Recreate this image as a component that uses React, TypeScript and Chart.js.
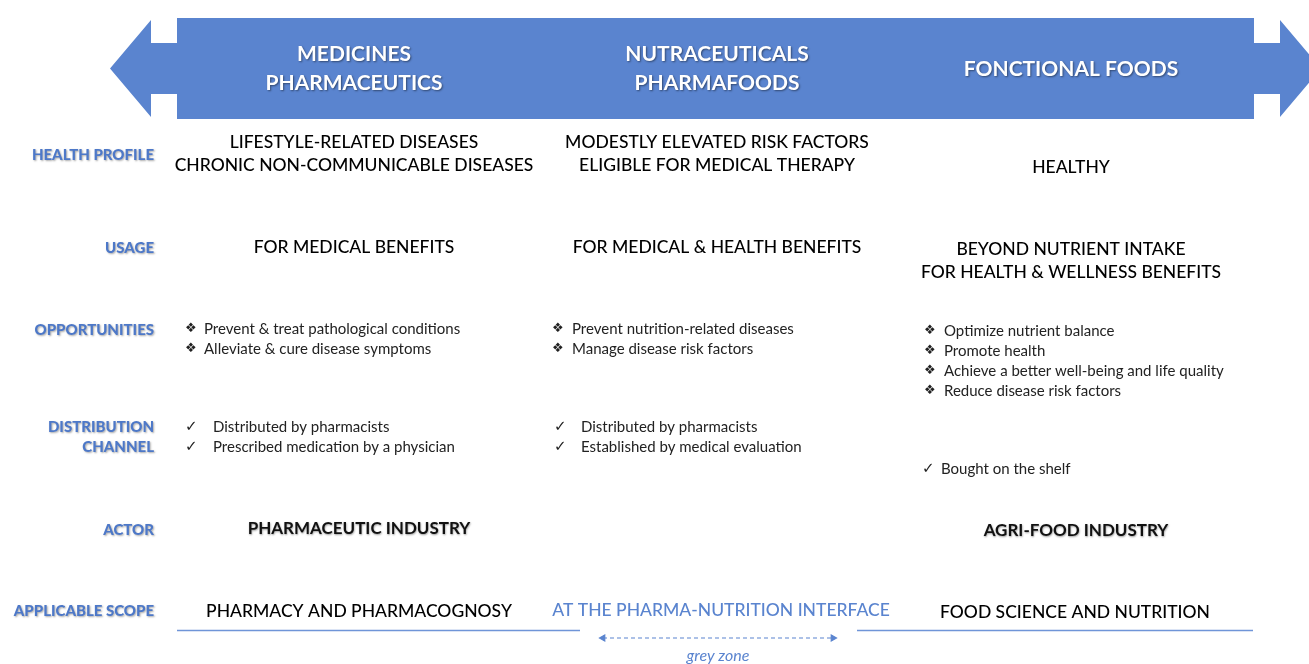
import React, { useEffect, useRef } from 'react';
import { Chart, registerables } from 'chart.js';

Chart.register(...registerables);

const W = 1309;
const H = 664;

// ---------- content ----------
const columnTitles = [
  ['MEDICINES', 'PHARMACEUTICS'],
  ['NUTRACEUTICALS', 'PHARMAFOODS'],
  ['FONCTIONAL FOODS'],
];
const rowLabels = [
  ['HEALTH PROFILE'],
  ['USAGE'],
  ['OPPORTUNITIES'],
  ['DISTRIBUTION', 'CHANNEL'],
  ['ACTOR'],
  ['APPLICABLE SCOPE'],
];
const healthProfile = [
  ['LIFESTYLE-RELATED DISEASES', 'CHRONIC NON-COMMUNICABLE DISEASES'],
  ['MODESTLY ELEVATED RISK FACTORS', 'ELIGIBLE FOR MEDICAL THERAPY'],
  ['HEALTHY'],
];
const usage = [
  ['FOR MEDICAL BENEFITS'],
  ['FOR MEDICAL & HEALTH BENEFITS'],
  ['BEYOND NUTRIENT INTAKE', 'FOR HEALTH & WELLNESS BENEFITS'],
];
const opportunities = [
  ['Prevent & treat pathological conditions', 'Alleviate & cure disease symptoms'],
  ['Prevent nutrition-related diseases', 'Manage disease risk factors'],
  ['Optimize nutrient balance', 'Promote health', 'Achieve a better well-being and life quality', 'Reduce disease risk factors'],
];
const distribution = [
  ['Distributed by pharmacists', 'Prescribed medication by a physician'],
  ['Distributed by pharmacists', 'Established by medical evaluation'],
  ['Bought on the shelf'],
];
const actor = [['PHARMACEUTIC INDUSTRY'], [], ['AGRI-FOOD INDUSTRY']];
const scope = [['PHARMACY AND PHARMACOGNOSY'], ['AT THE PHARMA-NUTRITION INTERFACE'], ['FOOD SCIENCE AND NUTRITION']];
const greyZoneLabel = 'grey zone';

// ---------- layout (scale units) ----------
const colCenters = [354, 717, 1071];
const rowLabelRight = 154;
const rowLabelY = [155, 248, 330, 437, 530, 611];
const headerLineY = [[54, 83], [54, 83], [69]];
const healthY = [142, 142, 167];
const usageY = [247, 247, 249];
const oppY = [329, 329, 331];
const distY = [427, 427, 469];
const actorY = [529, 529, 531];
const actorX = [359, 717, 1076];
const scopeY = [611, 610, 612];
const scopeX = [359, 721, 1075];
const bulletX = [185, 552, 924];
const bulletTextX = [204, 572, 944];
const checkX = [185, 554, 922];
const checkTextX = [213, 581, 941];
const bodyLineStep = 20;
const capsLineStep = 23;
const scopeLineSpans = [[177, 580], [857, 1253]];
const scopeLineY = 630.5;
const greyZoneSpan = [603, 833];
const greyZoneY = 638;
const greyZoneLabelY = 656;
// arrow polygon
const arrowX = { tipL: 110, headL: 151, bodyL: 177, bodyR: 1254, headR: 1280, tipR: 1321 };
const arrowY = { headTop: 20, headBot: 117, bodyTop: 18, bodyBot: 119, shaftTop: 43, shaftBot: 94, mid: 68.5 };

const BLUE = '#5a84cf';
const LABEL_BLUE = '#4d78c8';
const FONT = 'Lato, "Open Sans", sans-serif';

export default function App() {
  const ref = useRef<HTMLCanvasElement>(null);

  useEffect(() => {
    document.body.style.margin = '0';
    const canvas = ref.current!;

    const diagram = {
      id: 'diagram',
      beforeDatasetsDraw(chart: any) {
        const ctx: CanvasRenderingContext2D = chart.ctx;
        const sx = (v: number) => chart.scales.x.getPixelForValue(v);
        const sy = (v: number) => chart.scales.y.getPixelForValue(v);

        const text = (
          s: string, x: number, y: number, font: string, color: string,
          align: CanvasTextAlign = 'center', shadow?: { c: string; b: number; ox: number; oy: number }
        ) => {
          ctx.save();
          ctx.font = font;
          ctx.fillStyle = color;
          ctx.textAlign = align;
          ctx.textBaseline = 'middle';
          if (shadow) {
            ctx.shadowColor = shadow.c;
            ctx.shadowBlur = shadow.b;
            ctx.shadowOffsetX = shadow.ox;
            ctx.shadowOffsetY = shadow.oy;
          }
          ctx.fillText(s, sx(x), sy(y));
          ctx.restore();
        };

        // arrow
        const a = arrowX, b = arrowY;
        const pts: [number, number][] = [
          [a.tipL, b.mid], [a.headL, b.headTop], [a.headL, b.shaftTop], [a.bodyL, b.shaftTop],
          [a.bodyL, b.bodyTop], [a.bodyR, b.bodyTop], [a.bodyR, b.shaftTop], [a.headR, b.shaftTop],
          [a.headR, b.headTop], [a.tipR, b.mid], [a.headR, b.headBot], [a.headR, b.shaftBot],
          [a.bodyR, b.shaftBot], [a.bodyR, b.bodyBot], [a.bodyL, b.bodyBot], [a.bodyL, b.shaftBot],
          [a.headL, b.shaftBot], [a.headL, b.headBot],
        ];
        ctx.save();
        ctx.beginPath();
        pts.forEach(([x, y], i) => (i ? ctx.lineTo(sx(x), sy(y)) : ctx.moveTo(sx(x), sy(y))));
        ctx.closePath();
        ctx.fillStyle = BLUE;
        ctx.fill();
        ctx.restore();

        const headShadow = { c: 'rgba(0,0,0,0.45)', b: 2, ox: 1, oy: 1.5 };
        columnTitles.forEach((lines, c) =>
          lines.forEach((s, i) => text(s, colCenters[c], headerLineY[c][i], `bold 21px ${FONT}`, '#ffffff', 'center', headShadow))
        );

        const labelShadow = { c: 'rgba(0,0,0,0.35)', b: 2, ox: 1, oy: 1 };
        rowLabels.forEach((lines, r) => {
          const n = lines.length;
          lines.forEach((s, i) =>
            text(s, rowLabelRight, rowLabelY[r] + (i - (n - 1) / 2) * bodyLineStep, `900 15px ${FONT}`, LABEL_BLUE, 'right', labelShadow)
          );
        });

        const capsFont = `500 17.5px ${FONT}`;
        healthProfile.forEach((lines, c) =>
          lines.forEach((s, i) => text(s, colCenters[c], healthY[c] + i * capsLineStep, capsFont, '#000', 'center'))
        );
        usage.forEach((lines, c) =>
          lines.forEach((s, i) => text(s, colCenters[c], usageY[c] + i * capsLineStep, capsFont, '#000', 'center'))
        );

        const bodyFont = `15px ${FONT}`;
        opportunities.forEach((lines, c) =>
          lines.forEach((s, i) => {
            const y = oppY[c] + i * bodyLineStep;
            text('\u2756', bulletX[c], y, `13px "DejaVu Sans"`, '#222', 'left');
            text(s, bulletTextX[c], y, bodyFont, '#222', 'left');
          })
        );
        distribution.forEach((lines, c) =>
          lines.forEach((s, i) => {
            const y = distY[c] + i * bodyLineStep;
            text('\u2713', checkX[c], y, `15px "DejaVu Sans"`, '#222', 'left');
            text(s, checkTextX[c], y, bodyFont, '#222', 'left');
          })
        );

        const actorShadow = { c: 'rgba(0,0,0,0.4)', b: 2, ox: 0.5, oy: 1 };
        actor.forEach((lines, c) =>
          lines.forEach((s) => text(s, actorX[c], actorY[c], `bold 17px ${FONT}`, '#111', 'center', actorShadow))
        );
        scope.forEach((lines, c) =>
          lines.forEach((s) => text(s, scopeX[c], scopeY[c], `500 17.5px ${FONT}`, c === 1 ? BLUE : '#000', 'center'))
        );
        text(greyZoneLabel, (greyZoneSpan[0] + greyZoneSpan[1]) / 2, greyZoneLabelY, `italic 16px ${FONT}`, BLUE, 'center');
      },
    };

    const chart = new Chart(canvas, {
      type: 'scatter',
      data: {
        datasets: [
          ...scopeLineSpans.map((span) => ({
            data: span.map((x) => ({ x, y: scopeLineY })),
            showLine: true,
            borderColor: '#6f95d8',
            borderWidth: 1.5,
            pointRadius: 0,
          })),
          {
            data: greyZoneSpan.map((x) => ({ x, y: greyZoneY })),
            showLine: true,
            borderColor: BLUE,
            borderWidth: 1.2,
            borderDash: [4, 3],
            pointStyle: 'triangle',
            pointRadius: 3.5,
            pointRotation: [-90, 90],
            pointBackgroundColor: BLUE,
            pointBorderColor: BLUE,
          } as any,
        ],
      },
      options: {
        animation: false,
        responsive: false,
        maintainAspectRatio: false,
        layout: { padding: 0, autoPadding: false },
        events: [],
        plugins: { legend: { display: false }, tooltip: { enabled: false } },
        scales: {
          x: { type: 'linear', min: 0, max: W, display: false },
          y: { type: 'linear', min: 0, max: H, reverse: true, display: false },
        },
      },
      plugins: [diagram],
    });
    return () => chart.destroy();
  }, []);

  return <canvas ref={ref} width={W} height={H} style={{ display: 'block' }} />;
}
